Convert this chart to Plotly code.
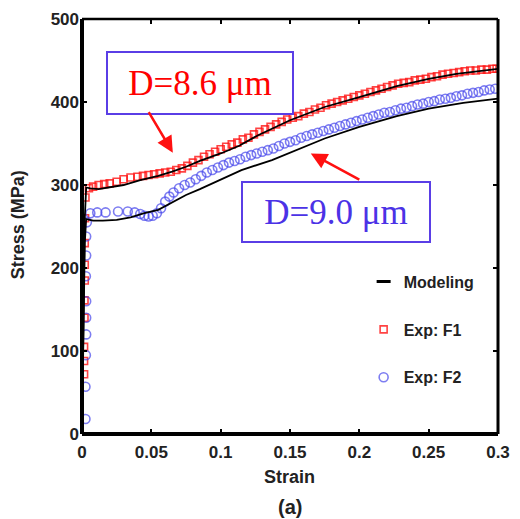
import plotly.graph_objects as go

# ---------------- data ----------------
model_f1_strain = [0.0, 0.0005, 0.001, 0.0015, 0.002, 0.003, 0.006, 0.012, 0.02, 0.03, 0.042, 0.055,
                   0.065, 0.075, 0.085, 0.1, 0.113, 0.127, 0.15, 0.175, 0.2, 0.227, 0.25, 0.27, 0.3]
model_f1_stress = [0, 70, 140, 200, 260, 297, 296, 295, 297, 300, 306, 311,
                   316, 322, 329, 338, 347, 360, 378, 394, 406, 419, 428, 434, 440]

model_f2_strain = [0.0, 0.0005, 0.001, 0.0015, 0.002, 0.003, 0.008, 0.015, 0.025, 0.035, 0.045, 0.055,
                   0.065, 0.075, 0.085, 0.1, 0.115, 0.137, 0.154, 0.175, 0.2, 0.227, 0.25, 0.275, 0.3]
model_f2_stress = [0, 60, 120, 180, 230, 259, 257, 257, 258, 261, 266, 270,
                   279, 288, 295, 307, 318, 330, 342, 356, 370, 383, 392, 399, 404]

exp_f1_strain = [0.0015, 0.0015, 0.0015, 0.0018, 0.0018, 0.002, 0.002, 0.002, 0.0022, 0.0025,
                 0.005, 0.008, 0.012, 0.016, 0.02, 0.025, 0.03, 0.035, 0.04, 0.044,
                 0.048, 0.052, 0.056, 0.06, 0.064, 0.068, 0.072, 0.076, 0.08, 0.084,
                 0.088, 0.092, 0.096, 0.1, 0.104, 0.108, 0.112, 0.116, 0.12, 0.124,
                 0.128, 0.132, 0.136, 0.14, 0.144, 0.148, 0.152, 0.156, 0.16, 0.164,
                 0.168, 0.172, 0.176, 0.18, 0.184, 0.188, 0.192, 0.196, 0.2, 0.204,
                 0.208, 0.212, 0.216, 0.22, 0.224, 0.228, 0.232, 0.236, 0.24, 0.244,
                 0.248, 0.252, 0.256, 0.26, 0.264, 0.268, 0.272, 0.276, 0.28, 0.284,
                 0.288, 0.292, 0.296, 0.299]
exp_f1_stress = [72, 88, 105, 140, 161, 185, 204, 230, 260, 285,
                 296, 298, 300, 301, 302, 304, 307, 309, 310, 311,
                 312, 313, 314, 315, 316, 318, 320, 323, 327, 330,
                 334, 337, 340, 343, 346, 349, 351, 355, 357, 361,
                 364, 367, 370, 373, 376, 379, 381, 383, 386, 388,
                 391, 393, 396, 398, 400, 402, 404, 406, 408, 410,
                 412, 414, 416, 418, 420, 422, 423, 424, 426, 427,
                 428, 430, 431, 433, 434, 435, 436, 437, 438, 438,
                 439, 439, 440, 440]

exp_f2_strain = [0.0025, 0.0025, 0.0028, 0.003, 0.003, 0.003, 0.0028, 0.003, 0.003, 0.0035,
                 0.006, 0.011, 0.017, 0.026, 0.033, 0.038, 0.042, 0.045, 0.048, 0.051,
                 0.054, 0.057, 0.06, 0.063, 0.066, 0.07, 0.074, 0.078, 0.082, 0.086,
                 0.09, 0.094, 0.098, 0.102, 0.106, 0.11, 0.114, 0.118, 0.122, 0.126,
                 0.13, 0.134, 0.138, 0.142, 0.146, 0.15, 0.154, 0.158, 0.162, 0.166,
                 0.17, 0.174, 0.178, 0.182, 0.186, 0.19, 0.194, 0.198, 0.202, 0.206,
                 0.21, 0.214, 0.218, 0.222, 0.226, 0.23, 0.234, 0.238, 0.242, 0.246,
                 0.25, 0.254, 0.258, 0.262, 0.266, 0.27, 0.274, 0.278, 0.282, 0.286,
                 0.29, 0.294, 0.298]
exp_f2_stress = [18, 57, 95, 120, 140, 160, 190, 215, 238, 255,
                 266, 267, 267, 268, 268, 267, 265, 263, 262, 263,
                 266, 272, 280, 286, 291, 296, 300, 303, 307, 311,
                 315, 318, 321, 324, 327, 329, 331, 334, 336, 338,
                 340, 342, 344, 347, 350, 352, 354, 357, 359, 361,
                 363, 365, 367, 369, 371, 373, 375, 377, 379, 381,
                 383, 385, 387, 388, 390, 392, 393, 395, 397, 398,
                 400, 401, 403, 404, 405, 407, 408, 410, 411, 412,
                 414, 415, 416]

x_tickvals = [0, 0.05, 0.1, 0.15, 0.2, 0.25, 0.3]
x_ticktext = ["0", "0.05", "0.1", "0.15", "0.2", "0.25", "0.3"]
y_tickvals = [0, 100, 200, 300, 400, 500]

# ---------------- figure ----------------
BOLD = dict(family="Arial, Liberation Sans, sans-serif", size=17, color="#222", weight="bold")

fig = go.Figure()
fig.add_trace(go.Scatter(x=exp_f1_strain, y=exp_f1_stress, mode="markers", name="Exp: F1",
                         legendgroup="f1", legendrank=2,
                         marker=dict(symbol="square-open", size=7, color="rgba(255,20,20,0.8)",
                                     line=dict(width=1.6))))
fig.add_trace(go.Scatter(x=exp_f2_strain, y=exp_f2_stress, mode="markers", name="Exp: F2",
                         legendgroup="f2", legendrank=3,
                         marker=dict(symbol="circle-open", size=9, color="rgba(70,70,235,0.7)",
                                     line=dict(width=1.6))))
fig.add_trace(go.Scatter(x=model_f1_strain, y=model_f1_stress, mode="lines", name="Modeling",
                         showlegend=False, line=dict(color="black", width=1.8)))
fig.add_trace(go.Scatter(x=model_f2_strain, y=model_f2_stress, mode="lines", name="Modeling",
                         showlegend=False, line=dict(color="black", width=1.8)))
# legend entry for the model curves (short dash symbol)
fig.add_trace(go.Scatter(x=[None], y=[None], mode="markers", name="Modeling",
                         legendgroup="m", legendrank=1,
                         marker=dict(symbol="line-ew-open", size=10, color="black",
                                     line=dict(width=3, color="black"))))
# helper trace for top/right mirror axes
fig.add_trace(go.Scatter(x=[None], y=[None], xaxis="x2", yaxis="y2", showlegend=False,
                         hoverinfo="skip"))

axis_common = dict(showgrid=False, zeroline=False, showline=False, ticks="inside",
                   ticklen=5, tickwidth=2, tickcolor="black")

fig.update_layout(
    width=520, height=519,
    margin=dict(l=82, r=16, t=10, b=85),
    paper_bgcolor="white", plot_bgcolor="white",
    showlegend=True,
    xaxis=dict(range=[0, 0.3], tickvals=x_tickvals, ticktext=x_ticktext,
               tickfont=BOLD, ticklabelstandoff=6, **axis_common),
    yaxis=dict(range=[0, 500], tickvals=y_tickvals, tickfont=BOLD, ticklabelstandoff=2,
               **axis_common),
    xaxis2=dict(range=[0, 0.3], tickvals=x_tickvals, overlaying="x", side="top", anchor="y2",
                showticklabels=False, **axis_common),
    yaxis2=dict(range=[0, 500], tickvals=y_tickvals, overlaying="y", side="right", anchor="x2",
                showticklabels=False, **axis_common),
    legend=dict(x=0.677, y=0.408, xanchor="left", yanchor="top", bgcolor="rgba(0,0,0,0)",
                font=dict(BOLD, size=16), tracegroupgap=24, itemsizing="trace"),
)

# frame
fig.add_shape(type="line", xref="paper", yref="paper", x0=0, x1=0, y0=0, y1=1,
              line=dict(color="black", width=4), layer="above")
fig.add_shape(type="line", xref="paper", yref="paper", x0=0, x1=1, y0=0, y1=0,
              line=dict(color="black", width=4), layer="above")
fig.add_shape(type="line", xref="paper", yref="paper", x0=0, x1=1, y0=1, y1=1,
              line=dict(color="black", width=2.5), layer="above")
fig.add_shape(type="line", xref="paper", yref="paper", x0=1, x1=1, y0=0, y1=1,
              line=dict(color="black", width=3), layer="above")

SERIF = "Times New Roman, Liberation Serif, serif"
BOXC = "#5a3ee6"
fig.add_annotation(x=0.0854, y=423, xref="x", yref="y", text="D=8.6 μm", showarrow=False,
                   font=dict(family=SERIF, size=35, color="#ff0000"),
                   width=184, height=60, bordercolor=BOXC, borderwidth=2, borderpad=0,
                   bgcolor="white")
fig.add_annotation(x=0.1829, y=268, xref="x", yref="y", text="D=9.0 μm", showarrow=False,
                   font=dict(family=SERIF, size=35, color="#4b32e6"),
                   width=186, height=58, bordercolor=BOXC, borderwidth=2, borderpad=0,
                   bgcolor="white")
# arrows
fig.add_annotation(x=0.0655, y=339, xref="x", yref="y", ax=-25, ay=-42, text="",
                   showarrow=True, arrowhead=2, arrowsize=1.3, arrowwidth=2.5, arrowcolor="#ff1010")
fig.add_annotation(x=0.165, y=338, xref="x", yref="y", ax=50, ay=27, text="",
                   showarrow=True, arrowhead=2, arrowsize=1.3, arrowwidth=2.5, arrowcolor="#ff1010")

# axis titles and panel label
fig.add_annotation(x=-0.154, y=0.505, xref="paper", yref="paper", text="Stress (MPa)",
                   textangle=-90, showarrow=False, xanchor="center", yanchor="middle",
                   font=dict(BOLD, size=18))
fig.add_annotation(x=0.498, y=-0.104, xref="paper", yref="paper", text="Strain",
                   showarrow=False, xanchor="center", yanchor="middle", font=dict(BOLD, size=18))
fig.add_annotation(x=0.5, y=-0.177, xref="paper", yref="paper", text="(a)",
                   showarrow=False, xanchor="center", yanchor="middle", font=dict(BOLD, size=20))

fig.write_html("out.html")
